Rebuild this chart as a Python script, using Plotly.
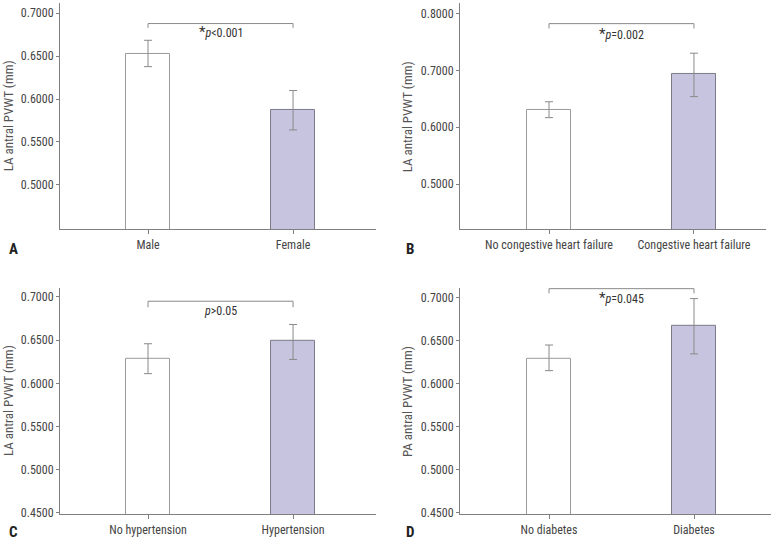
import plotly.graph_objects as go

W, H = 779, 547

# ---- data ----
cats_a = ["Male", "Female"]
mean_a = [0.653, 0.587]
errp_a = [0.0155, 0.023]
errm_a = [0.0152, 0.023]

cats_b = ["No congestive heart failure", "Congestive heart failure"]
mean_b = [0.631, 0.694]
errp_b = [0.014, 0.0365]
errm_b = [0.014, 0.040]

cats_c = ["No hypertension", "Hypertension"]
mean_c = [0.6287, 0.6487]
errp_c = [0.0171, 0.0194]
errm_c = [0.0175, 0.0211]

cats_d = ["No diabetes", "Diabetes"]
mean_d = [0.6287, 0.667]
errp_d = [0.016, 0.0315]
errm_d = [0.0137, 0.0326]

ytitles = ["LA antral PVWT (mm)", "LA antral PVWT (mm)", "LA antral PVWT (mm)", "PA antral PVWT (mm)"]
ptexts = ["<span style='font-size:15px'>*</span><i>p</i>&lt;0.001",
          "<span style='font-size:15px'>*</span><i>p</i>=0.002",
          "<i>p</i>&gt;0.05",
          "<span style='font-size:15px'>*</span><i>p</i>=0.045"]
letters = ["A", "B", "C", "D"]
ticks_ab = [[0.5, 0.55, 0.6, 0.65, 0.7], [0.5, 0.6, 0.7, 0.8]]
ticks_cd = [0.45, 0.5, 0.55, 0.6, 0.65, 0.7]
yranges = [[0.448, 0.712], [0.42, 0.819], [0.4485, 0.7105], [0.4485, 0.711]]
bracket_y = [(0.688, 0.683), (0.7826, 0.774), (0.695, 0.688), (0.710, 0.7045)]
ptext_y = [0.678, 0.7647, 0.6837, 0.699]

# ---- layout geometry (pixels) ----
panels = [
    dict(x0=60, x1=376, y0=3, y1=232, xr=[-0.607, 1.572], tx=8, lx=13, ly=252),
    dict(x0=460, x1=766, y0=3, y1=232, xr=[-0.614, 1.497], tx=407, lx=410, ly=252),
    dict(x0=60, x1=376, y0=291, y1=520, xr=[-0.607, 1.572], tx=8, lx=13, ly=538),
    dict(x0=460, x1=771, y0=291, y1=520, xr=[-0.614, 1.531], tx=407, lx=410, ly=538),
]

FONT = "Liberation Sans Narrow, Roboto Condensed, Arial Narrow, Roboto, sans-serif"
AXC = "#7f7f7f"

data = [(cats_a, mean_a, errp_a, errm_a), (cats_b, mean_b, errp_b, errm_b),
        (cats_c, mean_c, errp_c, errm_c), (cats_d, mean_d, errp_d, errm_d)]

fig = go.Figure()
layout = dict(width=W, height=H, margin=dict(l=0, r=0, t=0, b=0),
              paper_bgcolor="white", plot_bgcolor="white", showlegend=False,
              font=dict(family=FONT, size=11, color="#333"), bargap=0)
annotations = []
shapes = []
for i, (cats, m, ep, em) in enumerate(data):
    k = "" if i == 0 else str(i + 1)
    p = panels[i]
    fig.add_trace(go.Bar(
        x=cats, y=m, width=0.3, xaxis="x" + k, yaxis="y" + k,
        marker=dict(color=["white", "#c6c4de"], line=dict(color=["#9a9a9a", "#7a7a88"], width=1)),
        error_y=dict(type="data", array=ep, arrayminus=em, color="#8a8a8a", thickness=1, width=4),
    ))
    layout["xaxis" + k] = dict(
        domain=[p["x0"] / W, p["x1"] / W], anchor="y" + k, range=p["xr"],
        showline=True, linecolor=AXC, linewidth=1, ticks="outside", ticklen=4, tickcolor=AXC,
        showgrid=False, zeroline=False, tickfont=dict(size=12, color="#444", family=FONT),
        fixedrange=True)
    tv = ticks_ab[i] if i < 2 else ticks_cd
    layout["yaxis" + k] = dict(
        domain=[1 - p["y1"] / H, 1 - p["y0"] / H], anchor="x" + k, range=yranges[i],
        showline=True, linecolor=AXC, linewidth=1, ticks="outside", ticklen=3, tickcolor=AXC,
        tickvals=tv, ticktext=["%.4f" % v for v in tv], showgrid=False, zeroline=False,
        tickfont=dict(size=12, color="#444", family=FONT))
    # y title
    annotations.append(dict(text=ytitles[i], textangle=-90, xref="paper", yref="paper",
                            x=p["tx"] / W, y=1 - (p["y0"] + p["y1"]) / 2 / H,
                            xanchor="center", yanchor="middle",
                            showarrow=False, font=dict(size=13, color="#555", family=FONT)))
    # panel letter
    annotations.append(dict(text="<b>%s</b>" % letters[i], xref="paper", yref="paper",
                            x=p["lx"] / W, y=1 - p["ly"] / H, xanchor="center", yanchor="middle",
                            showarrow=False, font=dict(size=15, color="#222", family=FONT)))
    # bracket
    yt, ye = bracket_y[i]
    shapes.append(dict(type="path", xref="x" + k, yref="y" + k,
                       path="M %d,%f L %d,%f L %d,%f L %d,%f" % (0, ye, 0, yt, 1, yt, 1, ye),
                       line=dict(color="#8a8a8a", width=1)))
    annotations.append(dict(text=ptexts[i], xref="x" + k, yref="y" + k, x=0.5, y=ptext_y[i],
                            showarrow=False, font=dict(size=12, color="#333", family=FONT)))

layout["annotations"] = annotations
layout["shapes"] = shapes
fig.update_layout(**layout)
fig.write_html("out.html", config={"displayModeBar": False},
               post_script="document.body.style.margin='0';")
